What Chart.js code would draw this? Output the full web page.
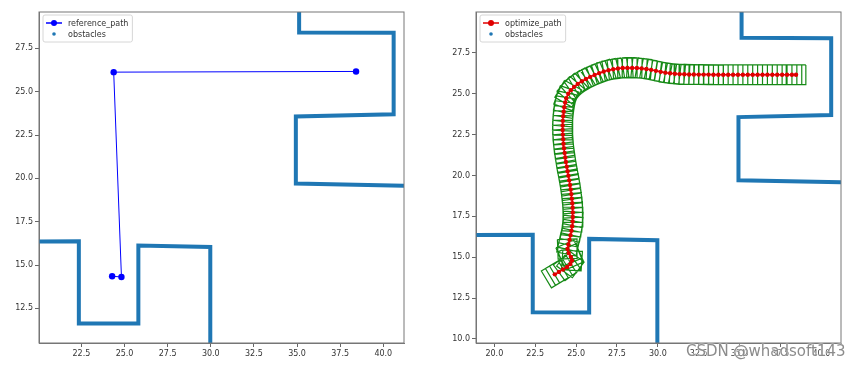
<!DOCTYPE html>
<html>
<head>
<meta charset="utf-8">
<script src="https://cdn.jsdelivr.net/npm/chart.js@4.4.1/dist/chart.umd.min.js"></script>
<style>
  body { margin: 0; background: #fff; }
  #wrap { position: relative; width: 859px; height: 369px; overflow: hidden; }
  canvas { position: absolute; top: 0; }
  #leftChart { left: 0; }
  #rightChart { left: 430px; }
  #mark {
    position: absolute; left: 686px; top: 342px;
    font: 15px "DejaVu Sans", sans-serif; color: #8c8c8c;
    text-shadow: 0 0 2px #fff, 0 0 2px #fff;
  }
</style>
</head>
<body>
<div id="wrap">
  <canvas id="leftChart" width="420" height="369"></canvas>
  <canvas id="rightChart" width="429" height="369"></canvas>
  <div id="mark">CSDN @whadsoft143</div>
</div>
<script>
// reference path (left plot)
const refX = [24.28, 24.82, 24.37, 38.42];
const refY = [14.35, 14.31, 26.13, 26.17];

// optimized path (right plot)
const optX = [23.7, 23.95, 24.2, 24.45, 24.65, 24.75, 24.68, 24.55, 24.48, 24.53,
  24.6, 24.66, 24.72, 24.76, 24.79, 24.8, 24.8, 24.79, 24.77, 24.74,
  24.71, 24.67, 24.63, 24.58, 24.53, 24.48, 24.43, 24.38, 24.34, 24.3,
  24.26, 24.23, 24.21, 24.19, 24.18, 24.18, 24.19, 24.21, 24.24, 24.28,
  24.33, 24.4, 24.52, 24.68, 24.88, 25.1, 25.35, 25.6, 25.86, 26.13,
  26.41, 26.69, 26.98, 27.27, 27.56, 27.85, 28.14, 28.43, 28.72, 29.01,
  29.3, 29.59, 29.88, 30.17, 30.46, 30.75, 31.04, 31.33, 31.62, 31.91,
  32.2, 32.5, 32.8, 33.1, 33.4, 33.7, 34.0, 34.3, 34.6, 34.9,
  35.2, 35.5, 35.8, 36.1, 36.4, 36.7, 37.0, 37.3, 37.6, 37.9,
  38.2, 38.45];
const optY = [13.95, 14.1, 14.25, 14.4, 14.58, 14.8, 15.02, 15.25, 15.5, 15.78,
  16.06, 16.34, 16.62, 16.9, 17.18, 17.46, 17.74, 18.02, 18.3, 18.58,
  18.86, 19.14, 19.42, 19.7, 19.98, 20.26, 20.54, 20.82, 21.1, 21.38,
  21.66, 21.94, 22.22, 22.5, 22.78, 23.06, 23.34, 23.62, 23.9, 24.18,
  24.46, 24.73, 25.0, 25.22, 25.42, 25.6, 25.76, 25.9, 26.03, 26.15,
  26.26, 26.36, 26.44, 26.5, 26.54, 26.57, 26.58, 26.58, 26.57, 26.55,
  26.51, 26.46, 26.4, 26.34, 26.29, 26.25, 26.22, 26.2, 26.19, 26.18,
  26.18, 26.17, 26.17, 26.17, 26.16, 26.16, 26.16, 26.16, 26.16, 26.16,
  26.16, 26.16, 26.16, 26.16, 26.16, 26.16, 26.16, 26.16, 26.16, 26.16,
  26.16, 26.16];

// obstacle outlines (corner points)
const wallLowX = [18.5, 22.35, 22.35, 25.8, 25.8, 29.97, 29.97];
const wallLowY = [16.35, 16.37, 11.63, 11.62, 16.12, 16.04, 9.4];
const wallHighX = [35.12, 35.12, 40.6, 40.6, 34.93, 34.93, 41.6];
const wallHighY = [30.6, 28.42, 28.4, 23.7, 23.57, 19.7, 19.57];

// tick labels
const leftXTicks = [22.5, 25, 27.5, 30, 32.5, 35, 37.5, 40];
const leftYTicks = [12.5, 15, 17.5, 20, 22.5, 25, 27.5];
const rightXTicks = [20, 22.5, 25, 27.5, 30, 32.5, 35, 37.5, 40];
const rightYTicks = [10, 12.5, 15, 17.5, 20, 22.5, 25, 27.5];

// vehicle footprint drawn at every optimized point
const BOX_LEN = 1.2;
const BOX_WID = 1.2;

const FONT = 'DejaVu Sans';
const BLUE = '#1f77b4';

function pts(xs, ys) {
  return xs.map((x, i) => ({ x: x, y: ys[i] }));
}

function boxOutlines(xs, ys) {
  const out = [];
  const n = xs.length;
  for (let i = 0; i < n; i++) {
    const a = Math.max(i - 1, 0), b = Math.min(i + 1, n - 1);
    const th = Math.atan2(ys[b] - ys[a], xs[b] - xs[a]);
    const c = Math.cos(th), s = Math.sin(th);
    const hl = BOX_LEN / 2, hw = BOX_WID / 2;
    const corners = [[hl, hw], [-hl, hw], [-hl, -hw], [hl, -hw], [hl, hw]];
    corners.forEach(([u, v]) => {
      out.push({ x: xs[i] + u * c - v * s, y: ys[i] + u * s + v * c });
    });
    out.push({ x: null, y: null });
  }
  return out;
}

function wallSet(xs, ys, label) {
  return {
    label: label, data: pts(xs, ys), showLine: true,
    borderColor: BLUE, backgroundColor: BLUE, borderWidth: 4,
    borderJoinStyle: 'miter', pointRadius: 0, clip: 0
  };
}

function axis(min, max, ticks, isX, size) {
  return {
    type: 'linear', min: min, max: max,
    grid: { drawOnChartArea: false, drawTicks: true, tickLength: 4, color: '#666' },
    border: { display: true, color: '#777', width: 1 },
    ticks: {
      font: { family: FONT, size: 8 }, color: '#333', padding: 2,
      autoSkip: false, maxRotation: 0, callback: v => v.toFixed(1)
    },
    afterBuildTicks: s => { s.ticks = ticks.map(v => ({ value: v })); },
    afterFit: s => { if (isX) s.height = size; else s.width = size; }
  };
}

// frame round the plot area and a matplotlib-like legend
const mplFrame = {
  id: 'mplFrame',
  afterDatasetsDraw(chart) {
    const { ctx, chartArea: ca } = chart;
    ctx.save();
    ctx.strokeStyle = '#777';
    ctx.lineWidth = 1;
    ctx.strokeRect(ca.left, ca.top, ca.right - ca.left, ca.bottom - ca.top);
    ctx.restore();
  },
  afterDraw(chart, args, opts) {
    const entries = opts.entries || [];
    if (!entries.length) return;
    const { ctx, chartArea: ca } = chart;
    ctx.save();
    ctx.font = '8px "' + FONT + '"';
    const textW = Math.max(...entries.map(e => ctx.measureText(e.label).width));
    const x0 = ca.left + 4, y0 = ca.top + 3;
    const w = 25 + textW + 4, h = 27;
    ctx.beginPath();
    ctx.roundRect(x0, y0, w, h, 2);
    ctx.fillStyle = 'rgba(255,255,255,0.85)';
    ctx.fill();
    ctx.strokeStyle = '#d6d6d6';
    ctx.lineWidth = 1;
    ctx.stroke();
    entries.forEach((e, k) => {
      const cy = y0 + 8 + k * 11;
      if (e.line) {
        ctx.strokeStyle = e.color;
        ctx.lineWidth = 1.5;
        ctx.beginPath();
        ctx.moveTo(x0 + 3, cy);
        ctx.lineTo(x0 + 19, cy);
        ctx.stroke();
      }
      ctx.fillStyle = e.color;
      ctx.beginPath();
      ctx.arc(x0 + 11, cy, e.r, 0, Math.PI * 2);
      ctx.fill();
      ctx.fillStyle = '#333';
      ctx.textBaseline = 'middle';
      ctx.fillText(e.label, x0 + 25, cy + 0.5);
    });
    ctx.restore();
  }
};

const baseOpts = {
  responsive: false, animation: false, events: [],
  plugins: { legend: { display: false }, tooltip: { enabled: false } }
};

new Chart(document.getElementById('leftChart'), {
  type: 'scatter',
  data: {
    datasets: [
      {
        label: 'reference_path', data: pts(refX, refY), showLine: true,
        borderColor: '#0000ff', backgroundColor: '#0000ff', borderWidth: 1,
        pointRadius: 3.2, pointBorderWidth: 0
      },
      wallSet(wallLowX, wallLowY, 'obstacles'),
      wallSet(wallHighX, wallHighY, 'obstacles')
    ]
  },
  options: {
    ...baseOpts,
    layout: { padding: { top: 12, right: 16, bottom: 0, left: 0 } },
    scales: {
      x: axis(20.04, 41.2, leftXTicks, true, 26),
      y: axis(10.5, 29.6, leftYTicks, false, 39)
    },
    plugins: {
      ...baseOpts.plugins,
      mplFrame: { entries: [
        { label: 'reference_path', color: '#0000ff', r: 3, line: true },
        { label: 'obstacles', color: BLUE, r: 1.8, line: false }
      ] }
    }
  },
  plugins: [mplFrame]
});

new Chart(document.getElementById('rightChart'), {
  type: 'scatter',
  data: {
    datasets: [
      {
        label: 'optimize_path', data: pts(optX, optY), showLine: true,
        borderColor: '#e00000', backgroundColor: '#e00000', borderWidth: 1.5,
        pointRadius: 2.2, pointBorderWidth: 0
      },
      wallSet(wallLowX, wallLowY, 'obstacles'),
      wallSet(wallHighX, wallHighY, 'obstacles'),
      {
        label: 'boxes', data: boxOutlines(optX, optY), showLine: true, spanGaps: false,
        borderColor: '#168a16', borderWidth: 1.2, pointRadius: 0
      }
    ]
  },
  options: {
    ...baseOpts,
    layout: { padding: { top: 12, right: 18, bottom: 0, left: 0 } },
    scales: {
      x: axis(18.88, 41.2, rightXTicks, true, 26),
      y: axis(9.75, 30.0, rightYTicks, false, 46)
    },
    plugins: {
      ...baseOpts.plugins,
      mplFrame: { entries: [
        { label: 'optimize_path', color: '#e00000', r: 3, line: true },
        { label: 'obstacles', color: BLUE, r: 1.8, line: false }
      ] }
    }
  },
  plugins: [mplFrame]
});
</script>
</body>
</html>
